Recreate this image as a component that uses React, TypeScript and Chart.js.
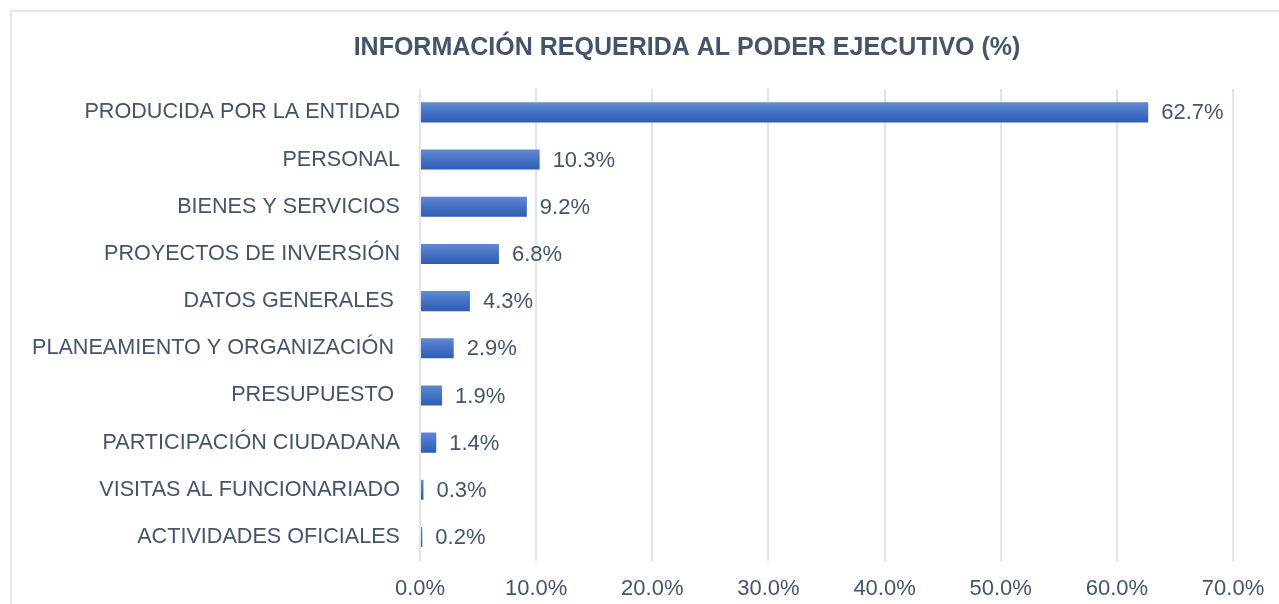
import React, { useEffect, useRef } from "react";
import { Chart, registerables } from "chart.js";

Chart.register(...registerables);

const categories = [
  "PRODUCIDA POR LA ENTIDAD",
  "PERSONAL",
  "BIENES Y SERVICIOS",
  "PROYECTOS DE INVERSIÓN",
  "DATOS GENERALES ",
  "PLANEAMIENTO Y ORGANIZACIÓN ",
  "PRESUPUESTO ",
  "PARTICIPACIÓN CIUDADANA",
  "VISITAS AL FUNCIONARIADO",
  "ACTIVIDADES OFICIALES",
];
const values = [62.7, 10.3, 9.2, 6.8, 4.3, 2.9, 1.9, 1.4, 0.3, 0.2];
const titleText = "INFORMACIÓN REQUERIDA AL PODER EJECUTIVO (%)";

const TEXT = "#44546A";
const FONT = "'Liberation Sans', Arial, sans-serif";

const dataLabels = {
  id: "dataLabels",
  afterDatasetsDraw(chart: any) {
    const ctx = chart.ctx;
    const meta = chart.getDatasetMeta(0);
    ctx.save();
    ctx.font = `22px ${FONT}`;
    ctx.fillStyle = TEXT;
    ctx.textAlign = "left";
    ctx.textBaseline = "middle";
    meta.data.forEach((el: any, i: number) => {
      ctx.fillText(values[i].toFixed(1) + "%", el.x + 13, el.y + 1);
    });
    ctx.restore();
  },
};

// center the title on the whole frame rather than on the padded layout box
const centerTitle = {
  id: "centerTitle",
  afterLayout(chart: any) {
    if (chart.titleBlock) {
      chart.titleBlock.left = 0;
      chart.titleBlock.right = chart.width;
    }
  },
};

export default function App() {
  const ref = useRef<HTMLCanvasElement>(null);
  useEffect(() => {
    document.body.style.overflow = "hidden";
    const chart = new Chart(ref.current!, {
      type: "bar",
      data: {
        labels: categories,
        datasets: [
          {
            data: values,
            backgroundColor: (c: any) => {
              const y = c.chart.scales?.y;
              if (!y || c.type !== "data") return "#4472C4";
              const cy = y.getPixelForValue(c.dataIndex);
              if (!Number.isFinite(cy)) return "#4472C4";
              const g = c.chart.ctx.createLinearGradient(0, cy - 10, 0, cy + 10);
              g.addColorStop(0, "#6389d4");
              g.addColorStop(0.5, "#4472C4");
              g.addColorStop(1, "#2f5db5");
              return g;
            },
            borderWidth: 0,
            barPercentage: 0.85,
            categoryPercentage: 0.5,
          },
        ],
      },
      options: {
        indexAxis: "y",
        responsive: false,
        animation: false,
        devicePixelRatio: 1,
        layout: { padding: { left: 0, right: 131, top: 0, bottom: 10 } },
        plugins: {
          legend: { display: false },
          tooltip: { enabled: false },
          title: {
            display: true,
            text: titleText,
            color: TEXT,
            font: { family: FONT, size: 25, weight: "bold" },
            padding: { top: 23.4, bottom: 25.4 },
          },
        },
        scales: {
          x: {
            min: 0,
            max: 70,
            ticks: {
              stepSize: 10,
              color: TEXT,
              font: { family: FONT, size: 22 },
              padding: 15,
              callback: (v: any) => Number(v).toFixed(1) + "%",
            },
            grid: { color: "#e1e5ec", lineWidth: 2, drawTicks: false },
            border: { display: false },
          },
          y: {
            ticks: {
              color: TEXT,
              font: { family: FONT, size: 21.6 },
              padding: 20,
              autoSkip: false,
            },
            grid: { display: false, drawTicks: false },
            border: { display: false },
            afterFit: (s: any) => {
              s.width = 410;
            },
          },
        },
      },
      plugins: [dataLabels, centerTitle],
    });
    return () => chart.destroy();
  }, []);
  return (
    <>
      <div
        style={{
          position: "absolute",
          left: 10,
          top: 10,
          width: 1360,
          height: 640,
          border: "2px solid #e3e6eb",
          boxSizing: "border-box",
        }}
      />
      <canvas
        ref={ref}
        width={1354}
        height={617}
        style={{ position: "absolute", left: 10, top: 10 }}
      />
    </>
  );
}
